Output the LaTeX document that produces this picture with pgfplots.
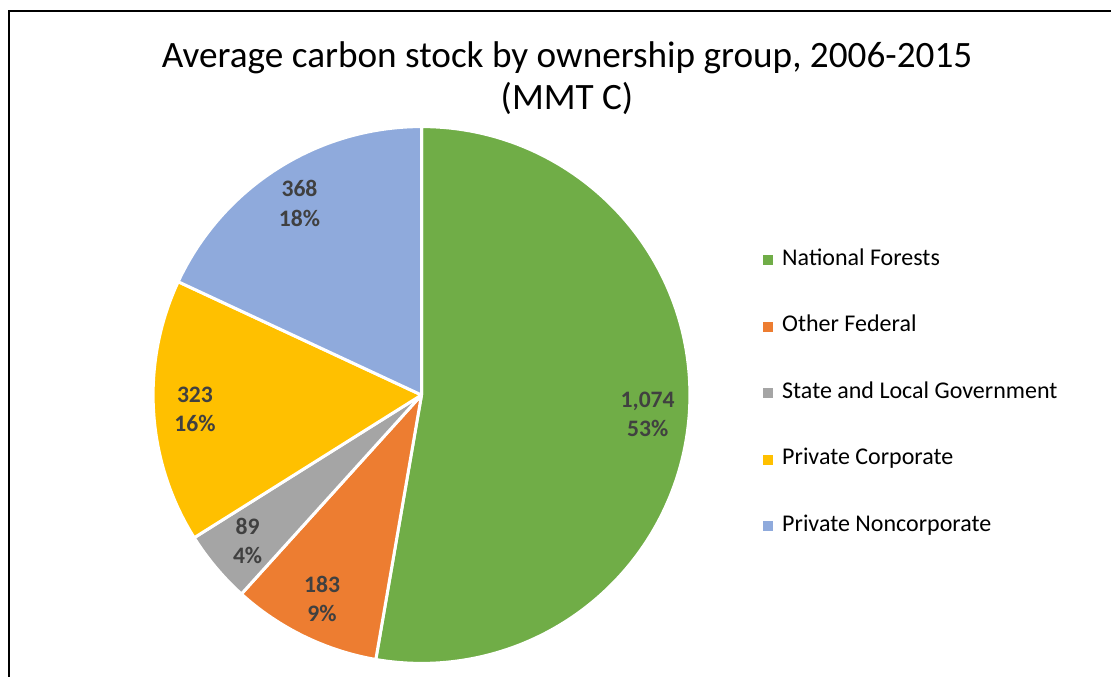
\documentclass[border=0pt]{standalone}
\usepackage{fontspec}
\setmainfont{Carlito}
\usepackage{pgfplots}
\usepackage{pgfplotstable}
\pgfplotsset{compat=1.18}
\definecolor{nfgreen}{HTML}{70AD47}
\definecolor{ofred}{HTML}{ED7D31}
\definecolor{slgray}{HTML}{A5A5A5}
\definecolor{pcgold}{HTML}{FFC000}
\definecolor{pnblue}{HTML}{8FAADC}
\definecolor{lbltext}{HTML}{404040}
\colorlet{piecol0}{nfgreen}
\colorlet{piecol1}{ofred}
\colorlet{piecol2}{slgray}
\colorlet{piecol3}{pcgold}
\colorlet{piecol4}{pnblue}

% average carbon stock, MMT C
\pgfplotstableread{
idx value
0 1074
1 183
2 89
3 323
4 368
}\piedata

% running start of each slice and the total
\def\pietotal{0}
\pgfplotstableforeachcolumnelement{value}\of\piedata\as\v{%
  \expandafter\xdef\csname piestart\pgfplotstablerow\endcsname{\pietotal}%
  \pgfmathsetmacro\tmp{\pietotal+\v}\xdef\pietotal{\tmp}}

\def\pieR{134.2pt}

\begin{document}
\begin{tikzpicture}
\path[use as bounding box] (0,0) rectangle (555.5pt,338pt);
\begin{axis}[
  at={(0,0)}, anchor=south west,
  scale only axis, width=555.5pt, height=338pt,
  xmin=0, xmax=1111, ymin=0, ymax=676,
  hide axis, clip=false,
  legend style={at={(axis cs:763,283)}, anchor=west, draw=none, fill=none,
    font=\fontsize{12}{14}\selectfont, row sep=23.25pt, inner sep=0pt,
    nodes={inner sep=0pt, text height=7.5pt, text depth=2.5pt},
    /tikz/every odd column/.append style={column sep=4.5pt}},
  legend cell align=left,
  legend image code/.code={\fill[#1] (0pt,-2.25pt) rectangle (4.5pt,2.25pt);},
]
% chart frame
\draw[line width=1pt] (axis cs:9,-30) |- (axis cs:1140,665);

\addplot[forget plot, scatter, only marks, mark=*, mark size=0pt,
  visualization depends on={\thisrow{idx}\as\pidx},
  visualization depends on={\thisrow{value}\as\pval},
  scatter/@pre marker code/.code={%
    \pgfmathtruncatemacro\pidxi{\pidx}%
    \pgfmathtruncatemacro\pvali{\pval}%
    \edef\pst{\csname piestart\pidxi\endcsname}%
    \pgfmathsetmacro\aS{90-360*(\pst/\pietotal)}%
    \pgfmathsetmacro\aE{90-360*((\pst+\pvali)/\pietotal)}%
    \pgfmathsetmacro\aM{(\aS+\aE)/2}%
    \pgfmathtruncatemacro\pc{round(100*(\pvali/\pietotal))}%
    \fill[piecol\pidxi, draw=white, line width=1.5pt, line join=round]
      (0,0) -- (\aS:\pieR) arc[start angle=\aS, end angle=\aE, radius=\pieR] -- cycle;
    \node[text=lbltext, align=center, font=\bfseries\fontsize{11.8}{14.8}\selectfont]
      at (\aM:113.5pt) {\pgfmathprintnumber[assume math mode=true, set thousands separator={,}]{\pvali}\\\pc\%};
    \scope[draw=none, fill=none]},
  scatter/@post marker code/.code={\endscope},
] table[x expr=421.5, y expr=281] {\piedata};

\addlegendimage{nfgreen}
\addlegendentry{National Forests}
\addlegendimage{ofred}
\addlegendentry{Other Federal}
\addlegendimage{slgray}
\addlegendentry{State and Local Government}
\addlegendimage{pcgold}
\addlegendentry{Private Corporate}
\addlegendimage{pnblue}
\addlegendentry{Private Noncorporate}

\node[anchor=base, font=\fontsize{18.6}{22}\selectfont] at (axis cs:567,608)
  {Average carbon stock by ownership group, 2006-2015};
\node[anchor=base, font=\fontsize{18.6}{22}\selectfont] at (axis cs:567,566) {(MMT C)};
\end{axis}
\end{tikzpicture}
\end{document}
